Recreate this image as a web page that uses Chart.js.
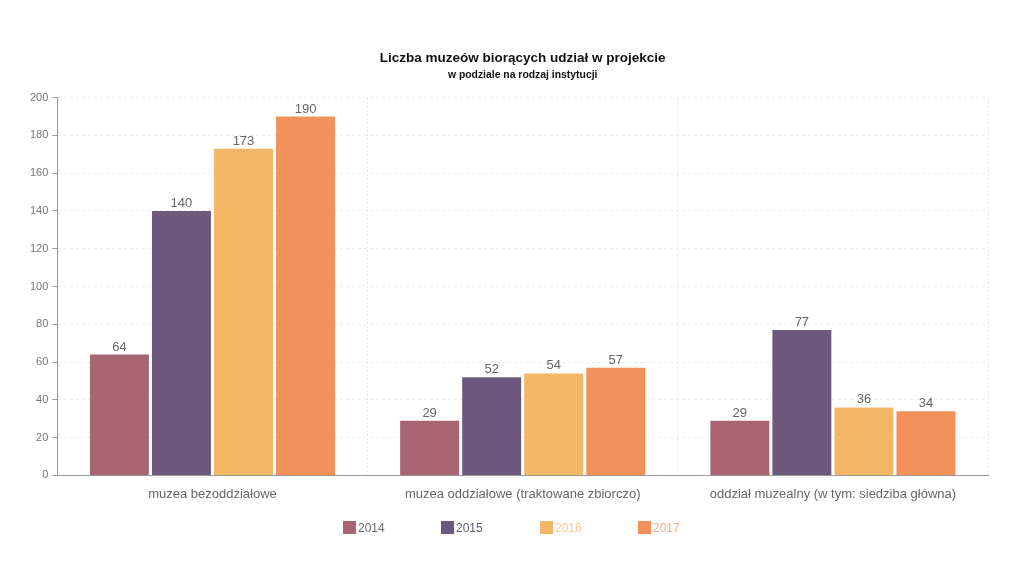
<!DOCTYPE html>
<html>
<head>
<meta charset="utf-8">
<script src="https://cdn.jsdelivr.net/npm/chart.js@4/dist/chart.umd.min.js"></script>
<style>
  html, body { margin: 0; padding: 0; background: #fff; }
  #wrap { position: relative; width: 1024px; height: 576px; }
  #legenda { position: absolute; left: 0; top: 520px; width: 1024px; height: 16px;
             font: 12px "Liberation Sans", Arial, sans-serif; }
  .poz { position: absolute; top: 0; height: 16px; line-height: 16px; white-space: nowrap; }
  .kw { display: inline-block; width: 13px; height: 13px; vertical-align: -2px; margin-right: 2px; }
</style>
</head>
<body>
<div id="wrap">
  <canvas id="museumChart" width="1024" height="576"></canvas>
  <div id="legenda"></div>
</div>
<script>
// dane
const kategorie = ['muzea bezoddziałowe', 'muzea oddziałowe (traktowane zbiorczo)', 'oddział muzealny (w tym: siedziba główna)'];
const lata = ['2014', '2015', '2016', '2017'];
const wartosci2014 = [64, 29, 29];
const wartosci2015 = [140, 52, 77];
const wartosci2016 = [173, 54, 36];
const wartosci2017 = [190, 57, 34];
const kolory = ['#a96474', '#6d587d', '#f2b766', '#f2915a'];
const koloryLegendy = ['#6f6a78', '#5f5a78', '#f6c88e', '#f2a98a'];

const serie = [wartosci2014, wartosci2015, wartosci2016, wartosci2017];
const FONT = '"Liberation Sans", Arial, sans-serif';

// etykiety z wartościami nad słupkami
const etykietyPlugin = {
    id: 'etykiety',
    afterDatasetsDraw(chart) {
        const ctx = chart.ctx;
        ctx.save();
        ctx.font = '13px ' + FONT;
        ctx.fillStyle = '#666';
        ctx.textAlign = 'center';
        ctx.textBaseline = 'bottom';
        chart.data.datasets.forEach((ds, i) => {
            chart.getDatasetMeta(i).data.forEach((bar, j) => {
                ctx.fillText(ds.data[j], bar.x, bar.y - 1);
            });
        });
        ctx.restore();
    }
};

const ctx = document.getElementById('museumChart').getContext('2d');
new Chart(ctx, {
    type: 'bar',
    data: {
        labels: kategorie,
        datasets: lata.map((rok, i) => ({
            label: rok,
            data: serie[i],
            backgroundColor: kolory[i],
            borderWidth: 0,
            categoryPercentage: 0.8,
            barPercentage: 0.95
        }))
    },
    options: {
        responsive: false,
        animation: false,
        devicePixelRatio: 1,
        layout: { padding: { left: 26, right: 36, top: 50, bottom: 63 } },
        plugins: {
            title: {
                display: true,
                fullSize: false,
                text: 'Liczba muzeów biorących udział w projekcie',
                color: '#111',
                font: { family: FONT, size: 13.5, weight: 'bold' },
                padding: { top: 0, bottom: 3 }
            },
            subtitle: {
                display: true,
                fullSize: false,
                text: 'w podziale na rodzaj instytucji',
                color: '#111',
                font: { family: FONT, size: 10.4, weight: 'bold' },
                padding: { top: 0, bottom: 16 }
            },
            legend: { display: false },
            tooltip: { enabled: false }
        },
        scales: {
            x: {
                grid: { color: '#e2e2e2', drawTicks: false },
                border: { color: '#999', dash: [2, 2] },
                ticks: {
                    color: '#666',
                    padding: 11,
                    font: { family: FONT, size: 13 }
                }
            },
            y: {
                min: 0,
                max: 200,
                grid: { color: '#ececec', tickColor: '#999', tickLength: 5 },
                border: { color: '#999', dash: [3, 3] },
                ticks: {
                    stepSize: 20,
                    color: '#777',
                    padding: 4,
                    font: { family: FONT, size: 11 }
                }
            }
        }
    },
    plugins: [etykietyPlugin]
});

// legenda HTML pod wykresem
const legenda = document.getElementById('legenda');
const pozycjeX = [343, 441, 540, 638];
for (let i = 0; i < lata.length; i++) {
    legenda.innerHTML += `
        <div class="poz" style="left:${pozycjeX[i]}px; color:${koloryLegendy[i]}">
            <span class="kw" style="background-color:${kolory[i]}"></span>${lata[i]}
        </div>`;
}
</script>
</body>
</html>
